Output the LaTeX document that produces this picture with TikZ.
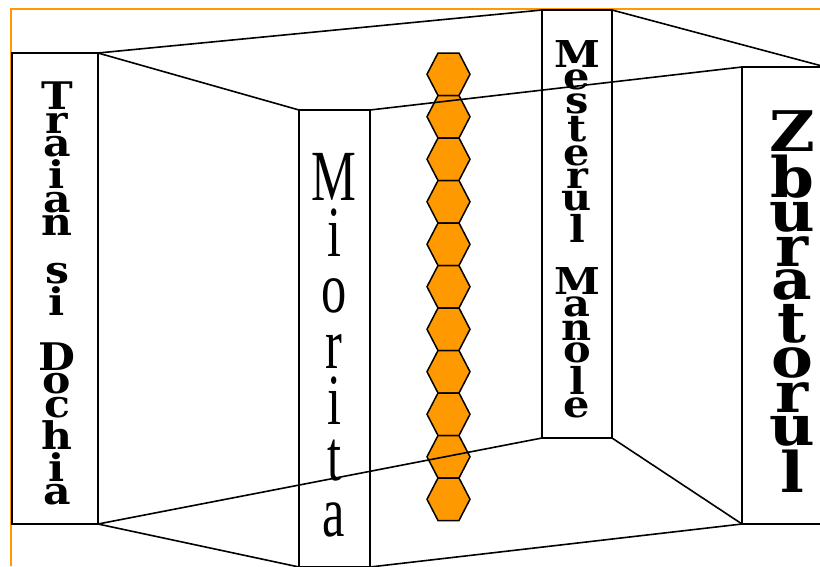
\documentclass[tikz,border=0pt]{standalone}
\usepackage{fontspec}
\setmainfont{DejaVu Serif}
\newfontfamily\narrowserif{Liberation Serif}
\usepackage{xcolor}
\definecolor{combo}{RGB}{255,153,0}

\begin{document}
\begin{tikzpicture}[x=1pt, y=-1pt,
    wall/.style={line width=1.6pt, black},
    hexcell/.style={line width=1.5pt, draw=black, fill=combo},
    stack/.style 2 args={anchor=north, inner sep=0pt, align=center, xscale=1.12, transform shape,
        font={\bfseries\fontsize{#1}{0}\selectfont\setlength\lineskip{#2}}}]
    \useasboundingbox (0,0) rectangle (820,566);

    % Frame
    \draw[combo, line width=2pt] (11,566) -- (11,9) -- (820,9);

    % Hexagon column
    \foreach \k in {0,...,10}
        \draw[hexcell] ({438},{53+42.5*\k}) -- ++(21,0) -- ++(11,21.25) -- ++(-11,21.25)
            -- ++(-21,0) -- ++(-11,-21.25) -- cycle;

    % Panels
    \draw[wall] (12,53) rectangle (98,524);
    \draw[wall] (299,110) rectangle (370,567);
    \draw[wall] (542,10) rectangle (612,438);
    \draw[wall] (742,67) rectangle (840,524);

    % Perspective lines
    \draw[wall] (98,53) -- (542,10);
    \draw[wall] (98,53) -- (299,110);
    \draw[wall] (370,110) -- (742,67);
    \draw[wall] (612,10) -- (822,66);
    \draw[wall] (98,524) -- (542,438);
    \draw[wall] (98,524) -- (299,567);
    \draw[wall] (370,567) -- (742,524);
    \draw[wall] (612,438) -- (742,524);

    % Titles
    \node[stack={38}{3pt}] (traian) at (57,82)
        {T\\r\\a\\i\\a\\n\\[24pt]s\\i\\[24pt]D\\o\\c\\h\\i\\a};
    \node[stack={37}{3pt}] (mesterul) at (577,40)
        {M\\e\\s\\t\\e\\r\\u\\l\\[22pt]M\\a\\n\\o\\l\\e};
    \node[stack={56}{4pt}] (zburatorul) at (792,110)
        {Z\\b\\u\\r\\a\\t\\o\\r\\u\\l};

    % Miorita
    \foreach \ch [count=\i from 0] in {M,i,o,r,i,t,a}
        \node[anchor=base, inner sep=0pt, font=\narrowserif\fontsize{48}{48}\selectfont]
            (mi\i) at (334,{200+56*\i}) {\scalebox{1.05}[1.5]{\ch}};
\end{tikzpicture}
\end{document}
